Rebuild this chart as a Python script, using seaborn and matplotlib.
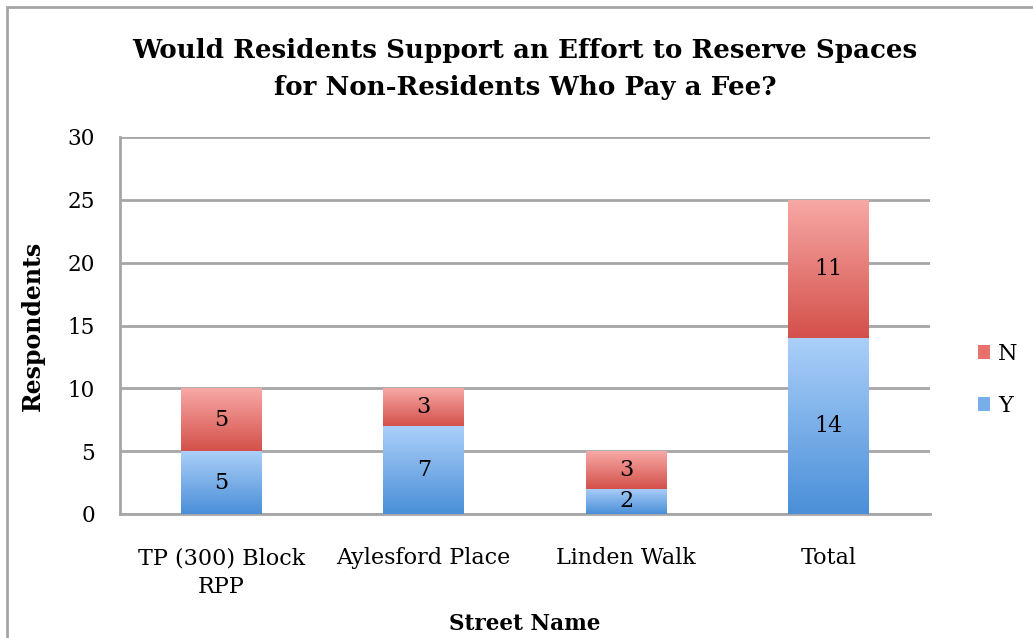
import numpy as np
import pandas as pd
import matplotlib
matplotlib.use("Agg")
import matplotlib.pyplot as plt
import seaborn as sns
from matplotlib.colors import LinearSegmentedColormap
from matplotlib.patches import Rectangle, Patch

# ---- data ----
streets = ["TP (300) Block\nRPP", "Aylesford Place", "Linden Walk", "Total"]
yes_vals = [5, 7, 2, 14]
no_vals = [5, 3, 3, 11]
yticks = [0, 5, 10, 15, 20, 25, 30]
title = "Would Residents Support an Effort to Reserve Spaces\nfor Non-Residents Who Pay a Fee?"

totals = [y + n for y, n in zip(yes_vals, no_vals)]
df = pd.DataFrame({"street": streets, "Y": yes_vals, "N": no_vals, "total": totals})

sns.set_style("white")
serif = ["DejaVu Serif", "Liberation Serif"]
plt.rcParams["font.family"] = serif
plt.rcParams["text.color"] = "black"
plt.rcParams["xtick.labelcolor"] = "black"
plt.rcParams["ytick.labelcolor"] = "black"
plt.rcParams["axes.labelcolor"] = "black"

fig = plt.figure(figsize=(10.33, 6.38), dpi=100)
ax = fig.add_axes([120 / 1033, 1 - 514 / 638, (930 - 120) / 1033, (514 - 137) / 638])

blue_top, blue_bot = "#abcff9", "#4a8fd8"
red_top, red_bot = "#f7a9a6", "#d4504a"

sns.barplot(data=df, x="street", y="total", color=red_bot, width=0.4,
            saturation=1, ax=ax, linewidth=0, zorder=3)
n_red = len(ax.patches)
sns.barplot(data=df, x="street", y="Y", color=blue_bot, width=0.4,
            saturation=1, ax=ax, linewidth=0, zorder=4)
red_patches = ax.patches[:n_red]
blue_patches = ax.patches[n_red:]

cm_blue = LinearSegmentedColormap.from_list("b", [blue_bot, blue_top])
cm_red = LinearSegmentedColormap.from_list("r", [red_bot, red_top])
grad = np.linspace(0, 1, 256).reshape(-1, 1)

for rp, bp in zip(red_patches, blue_patches):
    x0 = bp.get_x(); w = bp.get_width()
    yb = bp.get_height(); yt = rp.get_height()
    im = ax.imshow(grad, extent=(x0, x0 + w, 0, yb), origin="lower", cmap=cm_blue,
                   aspect="auto", zorder=5, interpolation="bilinear")
    im.set_clip_path(bp)
    im2 = ax.imshow(grad, extent=(x0, x0 + w, yb, yt), origin="lower", cmap=cm_red,
                    aspect="auto", zorder=5, interpolation="bilinear")
    im2.set_clip_path(rp)
    # value labels
    cx = x0 + w / 2
    ax.text(cx, yb / 2, f"{int(yb)}", ha="center", va="center", fontsize=16,
            color="black", zorder=6)
    ax.text(cx, (yb + yt) / 2, f"{int(yt - yb)}", ha="center", va="center",
            fontsize=16, color="black", zorder=6)

ax.set_xlim(-0.5, len(streets) - 0.5)
ax.set_ylim(0, 30)
ax.set_yticks(yticks)
ax.set_yticklabels([str(t) for t in yticks], fontsize=15.5)
ax.yaxis.grid(True, color="#a6a6a6", linewidth=2, zorder=0)
ax.set_axisbelow(True)

ax.set_xticks(range(len(streets)))
ax.set_xticklabels(streets, fontsize=16, linespacing=1.4)
ax.set_xticks(np.arange(-0.5, len(streets), 1.0), minor=True)
ax.tick_params(axis="x", which="major", length=0, pad=24)
ax.tick_params(axis="x", which="minor", length=7, width=2, color="#a6a6a6", direction="out")
ax.tick_params(axis="y", length=10, width=2, color="#a6a6a6", direction="out", pad=8)

for s in ["top", "right"]:
    ax.spines[s].set_visible(False)
for s in ["left", "bottom"]:
    ax.spines[s].set_color("#a6a6a6")
    ax.spines[s].set_linewidth(2)

ax.set_xlabel("Street Name", fontsize=15.5, fontweight="bold", labelpad=11)
ax.set_ylabel("Respondents", fontsize=17, fontweight="bold", labelpad=16)

fig.text(0.508, 1 - 69 / 638, title, ha="center", va="center", fontsize=18.8,
         fontweight="bold", linespacing=1.62)

handles = [Patch(facecolor="#e8716c", edgecolor="none", label="N"),
           Patch(facecolor="#78aee9", edgecolor="none", label="Y")]
leg = fig.legend(handles=handles, loc="center left", bbox_to_anchor=(958 / 1033, 1 - 380 / 638),
                 frameon=False, fontsize=16, handlelength=0.55, handleheight=0.55,
                 handletextpad=0.35, labelspacing=1.35)

fig.patches.append(Rectangle((7 / 1033, -0.1), 1.2, 1.1 - 7 / 638 + 0.0,
                             transform=fig.transFigure, fill=False,
                             edgecolor="#a6a6a6", linewidth=2))

fig.savefig("out.png", dpi=100)
